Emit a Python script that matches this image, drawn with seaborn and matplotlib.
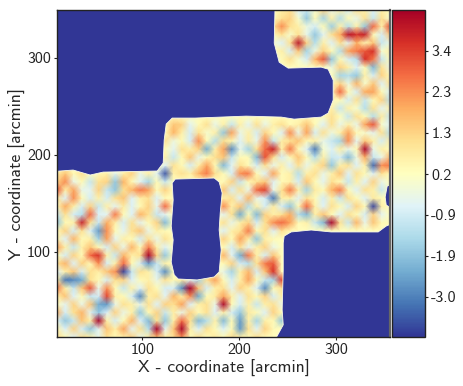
import numpy as np
import matplotlib
matplotlib.use("Agg")
import matplotlib.pyplot as plt
from matplotlib.transforms import Affine2D
import seaborn as sns

# map value, in steps of 0.13, top row first. 2 = pale fill under the blue parts
field_rows = [
    [2]*26 + [2,5,8,-5,-8,0,10,-3,5,-6,8,5,-5,5,2],
    [2]*26 + [3,8,10,0,-14,3,-12,5,-10,3,-3,8,-8,8,0],
    [2]*26 + [8,18,8,5,-2,-6,3,-13,5,-10,5,-14,22,5,25],
    [2]*26 + [3,8,0,8,-3,-14,-4,8,15,32,28,30,2,-6,12],
    [2]*26 + [0,-5,8,32,10,-10,5,-5,8,-4,14,3,12,-8,-2],
    [2]*26 + [3,5,-6,12,-12,-2,10,3,-10,16,20,24,28,0,5],
    [2]*26 + [-3,3,8,0,-6,14,24,-14,3,-6,-10,28,20,-8,3],
    [2]*33 + [-2,10,5,-5,3,-16,8,-3],
    [2]*34 + [-12,-10,-14,5,-6,10,3],
    [2]*34 + [10,-2,14,0,12,-5,8],
    [2]*34 + [22,3,-6,15,16,3,-6],
    [2]*34 + [3,-6,8,-8,3,10,-10],
    [2]*33 + [5,-8,5,0,-10,8,-4,5],
    [2]*33 + [8,2,-8,8,3,-10,6,-8],
    [2]*13 + [2,12,10,-4,3,8,-3,5,-8,5,-4,8,-3,5,8,3,5,12,3,-5,8,-3,5,-3,16,24,0,-5],
    [2]*13 + [3,14,5,-6,8,0,5,-14,16,-3,5,-6,10,3,-5,18,-3,16,-6,8,-2,5,16,3,0,-4,8,-10],
    [2]*13 + [8,-2,3,-6,18,3,-10,8,4,-5,6,-3,18,-8,5,8,12,3,5,-3,-8,-12,18,-4,12,5,-6,6],
    [2]*13 + [3,-4,8,5,10,-18,5,16,-22,-3,-12,8,22,30,5,20,3,-5,-24,0,-5,5,-3,3,34,-3,5,3],
    [2]*13 + [5,-8,3,12,-3,3,8,12,-8,3,3,-16,24,8,-6,3,12,3,-10,5,-8,-6,-16,-2,15,-8,-3,14],
    [2]*13 + [-5,8,3,-6,5,16,3,-16,-4,8,3,-6,8,-3,5,-5,8,-3,5,10,-14,5,8,-5,5,-26,18,20],
    [5,12,3,8,2,3,5,-4,5,10,-3,5,-4,-28,5,8,5,14,20,8,3,-6,18,20,3,-5,16,3,5,-10,5,8,-3,5,12,-5,8,3,-5,8,3],
    [10,18,-3,3,-8,8,10,-14,14,3,-4,-12,3,-8] + [2]*6 + [3,10,-8,3,8,12,-5,3,5,-6,12,3,-4,8,3,-8,5,-5,10,-3,2],
    [24,5,16,-3,-4,10,-8,-14,8,14,20,16,3,10] + [2]*6 + [12,-6,8,-3,22,26,-3,8,20,5,-12,6,3,14,20,3,-5,8,5,-8,2],
    [8,-5,18,3,-6,5,-6,8,12,-5,5,8,-5,3] + [2]*6 + [5,8,-5,14,-3,-6,-24,5,5,-4,8,3,-6,5,-8,8,3,-5,6,3,2],
    [3,15,5,-6,10,-8,5,-4,6,-5,3,10,-3,22] + [2]*6 + [18,5,12,-10,5,-6,6,-6,-14,3,22,5,-5,8,3,-6,10,3,-30,5,2],
    [-8,8,-6,-10,22,-5,-4,20,3,-5,14,8,-8,-4] + [2]*6 + [-4,8,-18,3,-16,10,5,8,15,-10,-16,5,12,3,-5,8,3,-6,10,-4,2],
    [-14,3,5,30,8,-8,15,5,-6,8,-4,3,10,-16] + [2]*6 + [8,-3,5,10,-6,8,18,22,16,3,5,-8,-16,36,8,-8,14,-3,12,3,3],
    [3,10,-6,8,-5,-20,18,3,-4,8,12,-3,5,3] + [2]*6 + [-5,5,8,20,3,8,-5,8,3] + [2]*12,
    [5,-5,14,3,5,-12,16,-4,5,3,-6,8,-3,8] + [2]*6 + [10,3,16,5,-14,5,3,2] + [2]*13,
    [16,5,-8,5,12,3,-6,10,-3,14,3,20,5,-5] + [2]*6 + [3,-6,8,-4,5,10,-3,2] + [2]*13,
    [3,-6,10,3,22,28,5,-8,14,5,8,36,10,-14] + [2]*6 + [14,-4,-18,20,5,-6,12,2] + [2]*13,
    [8,14,-5,10,3,18,-6,5,22,3,-6,-20,-8,5] + [2]*6 + [3,10,-6,-10,8,20,24,2] + [2]*13,
    [-5,5,12,-6,8,5,12,18,-30,-8,8,5,-6,-22] + [2]*6 + [-3,-12,5,14,-6,12,28,2] + [2]*13,
    [6,-24,-22,-18,8,3,-6,8,10,-5,3,5,-3,8,3,6,-4,-12,8,16,3,-6,5,16,3,-8,-12,26] + [2]*13,
    [20,5,-8,12,24,-3,18,3,-8,5,-5,8,3,-6,-6,-22,44,12,-6,5,8,-4,10,5,-5,-22,3,8] + [2]*13,
    [5,12,-5,3,-8,-6,26,5,3,-6,-22,5,8,-4,14,5,18,-18,3,6,16,5,-5,8,3,10,-6,5] + [2]*13,
    [3,-4,10,-3,12,-18,-20,-3,8,5,-3,8,-5,10,8,16,-5,5,8,-3,34,3,-6,5,-8,5,8,-3] + [2]*13,
    [14,-6,8,14,-4,-14,-5,10,-3,5,-14,3,10,-8,5,-3,10,3,8,-5,5,-6,-14,6,3,-5,10,3] + [2]*13,
    [-4,-14,-8,12,5,40,5,-6,3,14,-5,-16,8,-14,5,22,8,-16,-10,5,-16,3,-20,5,-12,5,3,-14] + [2]*13,
    [5,-5,10,-6,-14,-4,12,5,16,-4,8,-10,40,-4,12,34,5,-5,8,3,-5,3,-20,8,-4,10,3,2] + [2]*13,
    [8,3,-5,8,5,-3,8,3,5,10,-3,5,14,5,8,18,3,8,3,6,3,8,5,3,8,3,2,2] + [2]*13,
]

# outlines of the empty (blue) parts of the map, arcmin
upper_x = [0, 237.4, 236.4, 241.5, 250.8, 284.9, 292.1, 297.3, 297.3, 292.1, 284.9, 257, 243.6, 207.4,
           154.7, 131, 124.8, 122.7, 121.7, 115.5, 59.7, 46.3, 28.7, 0]
upper_y = [360, 360, 314.9, 295.3, 289.2, 290.2, 288.1, 276.8, 256.3, 242.9, 238.8, 236.7, 238.8, 239.8,
           237.8, 237.8, 231.6, 215.1, 191.5, 183.3, 182.2, 179.2, 184.3, 182.2]
hole_x = [131, 134.1, 174.4, 179.5, 182.6, 180.6, 179.5, 181.6, 179.5, 174.4, 156.8, 137.2, 133.1, 130, 132, 130, 132]
hole_y = [170.9, 175, 176.1, 172, 160.7, 140.1, 122.6, 102.1, 79.4, 74.3, 71.2, 72.2, 76.4, 89.7, 112.3, 126.7, 153.5]
lower_x = [246.7, 253.9, 274.6, 295.2, 343.8, 352.1, 365, 365, 232, 245.7, 244.6, 245.7, 245.7]
lower_y = [116.4, 120.6, 122.6, 120.6, 120.6, 126.7, 132, 0, 0, 25, 40.4, 81.5, 109.3]
notch_x = [365, 353.1, 351, 352.1, 365]
notch_y = [172, 167.8, 156.5, 148.3, 140]

x_ticks = [100, 200, 300]
y_ticks = [100, 200, 300]
cbar_ticks = [-3.0, -1.93, -0.86, 0.21, 1.29, 2.36, 3.43]
cbar_labels = ["-3.0", "-1.9", "-0.9", "0.2", "1.3", "2.3", "3.4"]

sns.set_theme(style="ticks")
plt.rcParams["font.family"] = ["cmss10", "DejaVu Sans"]
plt.rcParams["axes.unicode_minus"] = False
plt.rcParams["axes.formatter.use_mathtext"] = True

xmin, xmax, ymin, ymax = 12, 356, 12.5, 349

values = np.array(field_rows)[::-1] * 0.13
nrows, ncols = values.shape

fig = plt.figure(figsize=(4.63, 3.86), dpi=100)
ax = fig.add_axes([57 / 463, 1 - 337 / 386, 333 / 463, 327 / 386])
cax = fig.add_axes([392 / 463, 1 - 337 / 386, 33 / 463, 327 / 386])

# cell indices -> arcmin
to_arcmin = Affine2D().scale((xmax - xmin) / (ncols - 1), (ymax - ymin) / (nrows - 1)).translate(xmin, ymin)
sns.heatmap(values, ax=ax, cbar_ax=cax, cmap="RdYlBu_r", vmin=-4.05, vmax=4.5,
            shading="gouraud", transform=to_arcmin + ax.transData,
            xticklabels=False, yticklabels=False, cbar_kws={"ticks": cbar_ticks})

bg = plt.get_cmap("RdYlBu_r")(0.0)
for px, py in [(upper_x, upper_y), (hole_x, hole_y), (lower_x, lower_y), (notch_x, notch_y)]:
    ax.fill(px, py, facecolor=bg, edgecolor="#fbfbe6", lw=0.6, joinstyle="round")

ax.set_xlim(xmin, xmax)
ax.set_ylim(ymin, ymax)
ax.set_xticks(x_ticks, [str(t) for t in x_ticks])
ax.set_yticks(y_ticks, [str(t) for t in y_ticks], rotation=0)
ax.tick_params(length=2.5, width=0.8, labelsize=11.5, pad=2, colors="#222222")
ax.set_xlabel("X - coordinate [arcmin]", fontsize=12.7, labelpad=2)
ax.set_ylabel("Y - coordinate [arcmin]", fontsize=12.7, labelpad=0.5)
for s in ax.spines.values():
    s.set_visible(True)
    s.set_linewidth(1.0)
    s.set_color("#222222")
ax.spines["right"].set_linewidth(1.6)
ax.spines["right"].set_color("#666666")

cb = ax.collections[0].colorbar
cb.set_ticklabels(cbar_labels)
cb.ax.tick_params(length=2.5, width=0.8, labelsize=11.5, pad=2, colors="#222222")
cb.outline.set_visible(True)
cb.outline.set_linewidth(1.0)
cb.outline.set_edgecolor("#222222")

fig.savefig("out.png", dpi=100)
plt.close(fig)
